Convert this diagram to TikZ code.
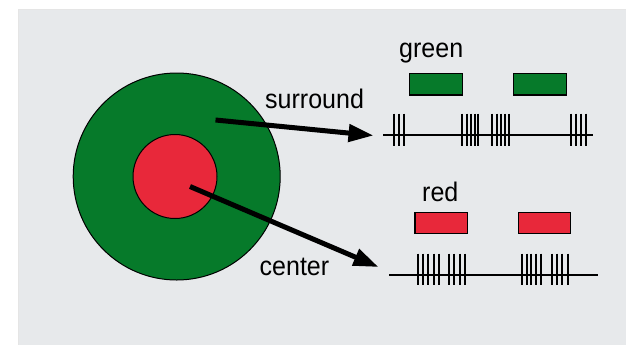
\documentclass[tikz,border=0pt]{standalone}
\usepackage{fontspec}
\setmainfont{Liberation Sans}[FakeStretch=0.93]
\usetikzlibrary{arrows.meta}
\definecolor{panel}{RGB}{231,233,235}
\definecolor{rfgreen}{RGB}{6,122,42}
\definecolor{rfred}{RGB}{232,40,58}
\tikzset{
  lbl/.style={anchor=base west, inner sep=0pt, font=\fontsize{27}{30}\selectfont},
  bigarrow/.style={line width=5bp, -{Triangle[length=25bp,width=17bp]}},
  spike/.style={line width=2bp},
  train/.style={line width=1.7bp},
  greenbox/.style={draw=black, line width=1.2bp, fill=rfgreen},
  redbox/.style={draw=black, line width=1.2bp, fill=rfred}
}
\begin{document}
\begin{tikzpicture}[x=1bp,y=-1bp]
\useasboundingbox (0,0) rectangle (626,345);
\fill[white] (0,0) rectangle (626,345);
\fill[black!10] (17.5,8.5) rectangle (626,345);
\fill[panel] (19,10) rectangle (626,345);
% receptive field
\node[circle, draw=black, line width=1bp, fill=rfgreen, minimum size=207bp, inner sep=0pt] (surr) at (176.7,176.5) {};
\node[circle, draw=black, line width=1bp, fill=rfred, minimum size=84bp, inner sep=0pt] (cent) at (175,176.5) {};
% labels
\node[lbl] (lsurr) at (265,108) {surround};
\node[lbl] (lcent) at (259.5,275) {center};
\node[lbl] (lgreen) at (399,57) {green};
\node[lbl] (lred) at (422,201.5) {red};
% stimulus boxes
\node[greenbox, minimum width=53bp, minimum height=21.5bp, inner sep=0pt] (g1) at (436,84.2) {};
\node[greenbox, minimum width=53bp, minimum height=21.5bp, inner sep=0pt] (g2) at (539.6,84.2) {};
\node[redbox, minimum width=52.5bp, minimum height=20.5bp, inner sep=0pt] (r1) at (441.3,223) {};
\node[redbox, minimum width=52.5bp, minimum height=20.5bp, inner sep=0pt] (r2) at (544.6,223) {};
% spike train 1 (surround)
\coordinate (t1a) at (383.3,135);
\coordinate (t1b) at (592.5,135);
\draw[train] (t1a) -- (t1b);
\foreach \x in {394.3,399,404,
                462.3,466.5,470.5,474.5,478.3,
                492.3,496.5,500.7,504.7,508.5,
                570.7,575.8,581,586}
  \draw[spike] (\x,113.5) -- (\x,145.5);
% spike train 2 (center)
\coordinate (t2a) at (389,275);
\coordinate (t2b) at (598,275);
\draw[train] (t2a) -- (t2b);
\foreach \x in {418,423.2,428.4,433.6,438.8,
                448.8,454.2,459.6,465,
                521.5,526.7,531.4,536,540.5,
                552.3,557.3,562.3,567.8}
  \draw[spike] (\x,253.5) -- (\x,285);
% arrows
\coordinate (s0) at (215.5,120);
\coordinate (s1) at (373.5,135.5);
\coordinate (c0) at (190,186.5);
\coordinate (c1) at (378.5,267);
\draw[bigarrow] (s0) -- (s1);
\draw[bigarrow] (c0) -- (c1);
\end{tikzpicture}
\end{document}
